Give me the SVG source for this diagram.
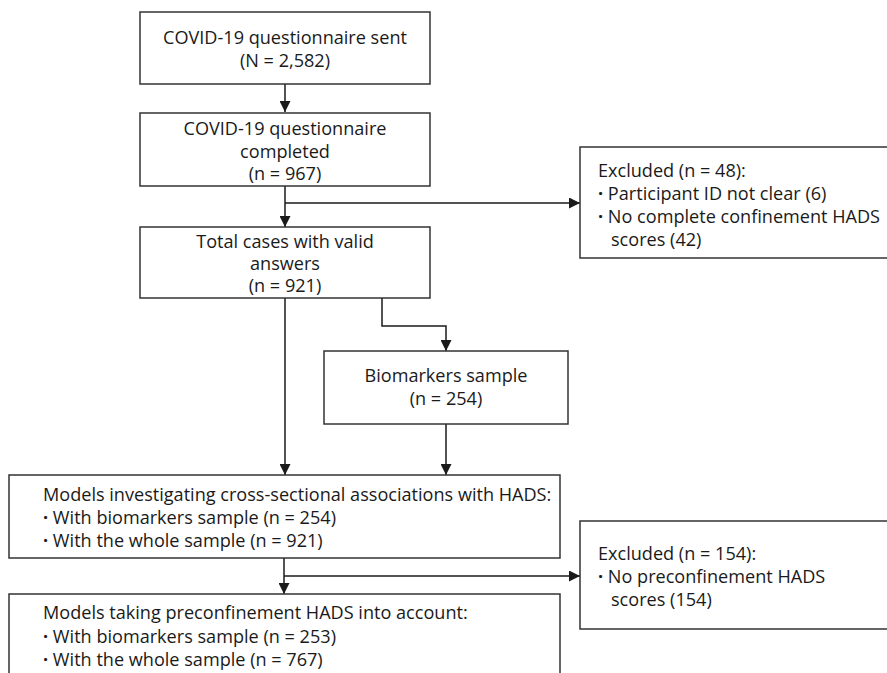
<svg xmlns="http://www.w3.org/2000/svg" width="887" height="673" viewBox="0 0 887 673">
<style>
.box{fill:#fff;stroke:#333;stroke-width:1.5}
.t{font-family:"Open Sans",sans-serif;font-size:18.1px;fill:#1a1a1a}
.c{text-anchor:middle}
.b{font-weight:700}
.ln{fill:none;stroke:#1a1a1a;stroke-width:1.5}
</style>
<defs>
<marker id="ah" viewBox="0 0 10 10" refX="10" refY="5" markerWidth="11" markerHeight="11" markerUnits="userSpaceOnUse" orient="auto">
<path d="M0,0 L10,5 L0,10 z" fill="#1a1a1a"/>
</marker>
</defs>
<rect width="887" height="673" fill="#fff"/>
<g id="connectors">
<path class="ln" d="M285,84 V112" marker-end="url(#ah)"/>
<path class="ln" d="M285,186 V227" marker-end="url(#ah)"/>
<path class="ln" d="M285,203 H580" marker-end="url(#ah)"/>
<path class="ln" d="M285,298 V475" marker-end="url(#ah)"/>
<path class="ln" d="M382,298 V326 H446 V351" marker-end="url(#ah)"/>
<path class="ln" d="M446,424 V475" marker-end="url(#ah)"/>
<path class="ln" d="M284,558 V594" marker-end="url(#ah)"/>
<path class="ln" d="M284,576 H580" marker-end="url(#ah)"/>
</g>
<g id="n1">
<rect class="box" x="140" y="12" width="290" height="72"/>
<text class="t c" x="285" y="44">COVID-19 questionnaire sent</text>
<text class="t c" x="285" y="67">(N = 2,582)</text>
</g>
<g id="n2">
<rect class="box" x="140" y="113" width="290" height="73"/>
<text class="t c" x="285" y="135">COVID-19 questionnaire</text>
<text class="t c" x="285" y="157.5">completed</text>
<text class="t c" x="285" y="180">(n = 967)</text>
</g>
<g id="n3">
<rect class="box" x="140" y="227" width="290" height="71"/>
<text class="t c" x="285" y="248">Total cases with valid</text>
<text class="t c" x="285" y="270">answers</text>
<text class="t c" x="285" y="292">(n = 921)</text>
</g>
<g id="ex1">
<rect class="box" x="580" y="147" width="320" height="111"/>
<text class="t" x="598" y="177">Excluded (n = 48):</text>
<text class="t" x="598" y="200"><tspan class="b">·</tspan> Participant ID not clear (6)</text>
<text class="t" x="598" y="223"><tspan class="b">·</tspan> No complete confinement HADS</text>
<text class="t" x="611" y="246">scores (42)</text>
</g>
<g id="n4">
<rect class="box" x="324" y="351" width="244" height="73"/>
<text class="t c" x="446" y="382">Biomarkers sample</text>
<text class="t c" x="446" y="405">(n = 254)</text>
</g>
<g id="n5">
<rect class="box" x="9" y="475" width="551" height="83"/>
<text class="t" x="43" y="501">Models investigating cross-sectional associations with HADS:</text>
<text class="t" x="43" y="524"><tspan class="b">·</tspan> With biomarkers sample (n = 254)</text>
<text class="t" x="43" y="547"><tspan class="b">·</tspan> With the whole sample (n = 921)</text>
</g>
<g id="ex2">
<rect class="box" x="580" y="521" width="320" height="108"/>
<text class="t" x="598" y="560">Excluded (n = 154):</text>
<text class="t" x="598" y="583"><tspan class="b">·</tspan> No preconfinement HADS</text>
<text class="t" x="611" y="606">scores (154)</text>
</g>
<g id="n6">
<rect class="box" x="9" y="594" width="551" height="100"/>
<text class="t" x="43" y="619">Models taking preconfinement HADS into account:</text>
<text class="t" x="43" y="642.5"><tspan class="b">·</tspan> With biomarkers sample (n = 253)</text>
<text class="t" x="43" y="666"><tspan class="b">·</tspan> With the whole sample (n = 767)</text>
</g>
</svg>
